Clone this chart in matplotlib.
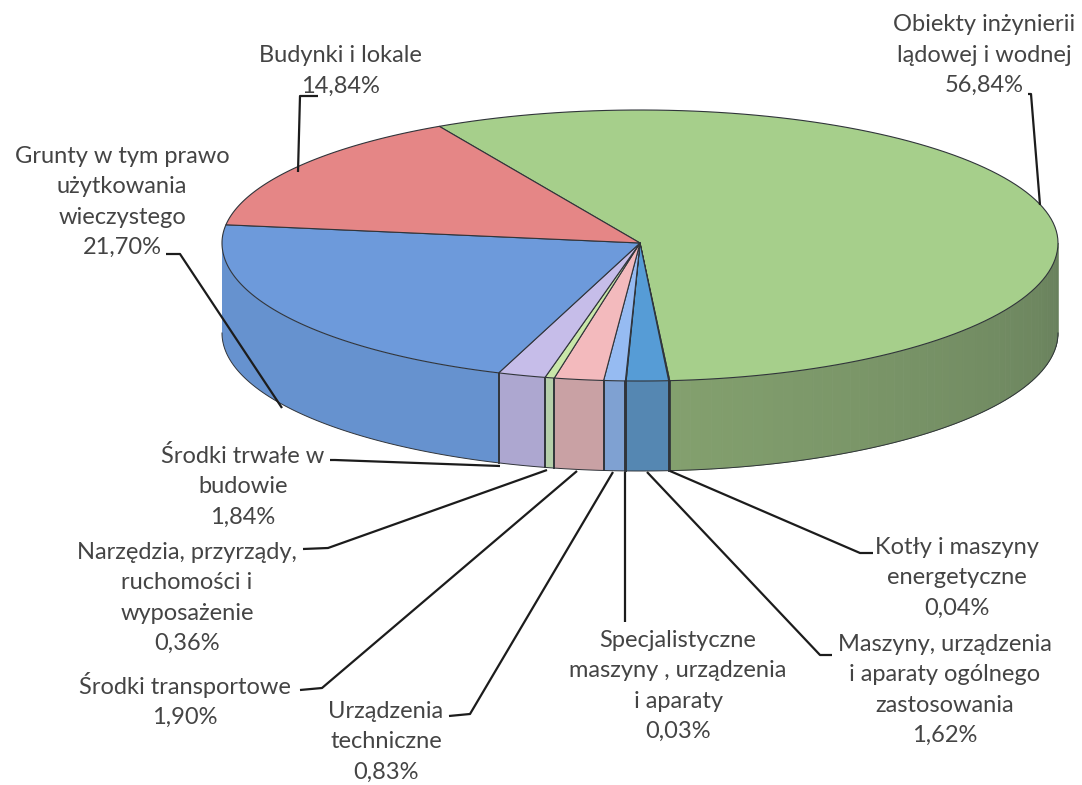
import numpy as np
import matplotlib
matplotlib.use('Agg')
import matplotlib.pyplot as plt
from matplotlib.patches import Polygon
from matplotlib.colors import to_rgb

# clockwise from the start of the green slice
names = ['Obiekty inżynierii\nlądowej i wodnej',
         'Kotły i maszyny\nenergetyczne',
         'Maszyny, urządzenia\ni aparaty ogólnego\nzastosowania',
         'Specjalistyczne\nmaszyny , urządzenia\ni aparaty',
         'Urządzenia\ntechniczne',
         'Środki transportowe',
         'Narzędzia, przyrządy,\nruchomości i\nwyposażenie',
         'Środki trwałe w\nbudowie',
         'Grunty w tym prawo\nużytkowania\nwieczystego',
         'Budynki i lokale']
values = [56.84, 0.04, 1.62, 0.03, 0.83, 1.90, 0.36, 1.84, 21.70, 14.84]
top_colors = ['#A6CF8B', '#8FC4D8', '#569CD6', '#3F7FBF', '#96BBF2', '#F3BABD',
              '#C9E7A9', '#C6BDE9', '#6D9ADB', '#E58686']
side_colors = ['#7F9C6B', '#6E9AB0', '#5587B2', '#4A7DAE', '#7FA1D2', '#C9A1A4',
               '#B5CFAA', '#ADA7D0', '#6692CF', '#C07070']

# where the labels and leader lines sit, in pixels
label_xy = [(984, 55), (957, 578), (945, 690), (678, 686), (386, 742), (185, 700),
            (187, 598), (243, 486), (122, 202), (340, 71)]
leaders = [[(1028, 94), (1031, 94), (1040, 205)],
           [(873, 553), (860, 553), (670, 471)],
           [(832, 655), (820, 655), (647, 472)],
           [(625, 622), (625, 472)],
           [(449, 716), (470, 714), (613, 472)],
           [(300, 690), (322, 688), (577, 471)],
           [(303, 549), (328, 548), (547, 470)],
           [(330, 460), (335, 460), (500, 466)],
           [(166, 254), (180, 254), (282, 408)],
           [(318, 96), (300, 96), (298, 172)]]

cx, cy, rx, ry_back, ry_front, depth = 640, 243, 418, 133, 138, 90
start = 118.7


def rim(t1, t2, dy=0, n=120):
    t = np.radians(np.linspace(t1, t2, n))
    s = np.sin(t)
    ry = np.where(s > 0, ry_back, ry_front)
    return np.column_stack([cx + rx * np.cos(t), cy - ry * s + dy])


fig = plt.figure(figsize=(10.82, 7.85), dpi=100)
ax = fig.add_axes([0, 0, 1, 1])
ax.set_xlim(0, 1082)
ax.set_ylim(785, 0)
ax.set_axis_off()

edges = start - np.cumsum([0] + values) * 3.6
edge_col = '#30343a'

# sides first, only the front half shows
for i, v in enumerate(values):
    t1, t2 = edges[i], edges[i + 1]
    if t2 < -180:
        t2 = -180
    t1 = min(t1, 0)
    if t1 <= t2:
        continue
    if i == 0:
        # the big green side gets darker towards the right
        steps = np.linspace(t2, t1, 60)
        c1 = np.array(to_rgb('#83A06E'))
        c2 = np.array(to_rgb('#68805C'))
        for j in range(len(steps) - 1):
            a, b = steps[j], steps[j + 1]
            col = c1 + (c2 - c1) * j / 58
            pts = np.vstack([rim(a, b, 0, 6), rim(b, a, depth, 6)])
            ax.add_patch(Polygon(pts, fc=col, ec=col, lw=0.6, zorder=2))
        outline = np.vstack([rim(t1, t2, depth), rim(t2, t2, 0, 2)])
        ax.plot(outline[:, 0], outline[:, 1], color=edge_col, lw=0.7, zorder=3)
    else:
        pts = np.vstack([rim(t1, t2, 0), rim(t2, t1, depth)])
        ax.add_patch(Polygon(pts, fc=side_colors[i], ec='none', zorder=2))
        if t1 > -180:
            bottom = rim(t1, t2, depth)
            ax.plot(bottom[:, 0], bottom[:, 1], color=edge_col, lw=0.7, zorder=3)
            px, py = rim(t1, t1, 0, 1)[0]
            ax.plot([px, px], [py, py + depth], color=edge_col, lw=1.2, zorder=3)
        bx, by = rim(t2, t2, 0, 1)[0]
        if t2 > -180:
            ax.plot([bx, bx], [by, by + depth], color=edge_col, lw=1.2, zorder=3)

# top face
for i, v in enumerate(values):
    pts = np.vstack([[cx, cy], rim(edges[i], edges[i + 1])])
    ax.add_patch(Polygon(pts, closed=True, fc=top_colors[i], ec=edge_col, lw=0.8,
                         joinstyle='round', zorder=4))

# leader lines
for line in leaders:
    xs, ys = zip(*line)
    ax.plot(xs, ys, color='#1c1c1c', lw=1.6, zorder=5, solid_capstyle='butt')

# labels
for name, v, (x, y) in zip(names, values, label_xy):
    txt = name + '\n' + f'{v:.2f}'.replace('.', ',') + '%'
    ax.text(x, y, txt, ha='center', va='center', family='Lato', fontsize=17,
            color='#444444', linespacing=1.55, zorder=6)

fig.savefig('out.png', dpi=100)
